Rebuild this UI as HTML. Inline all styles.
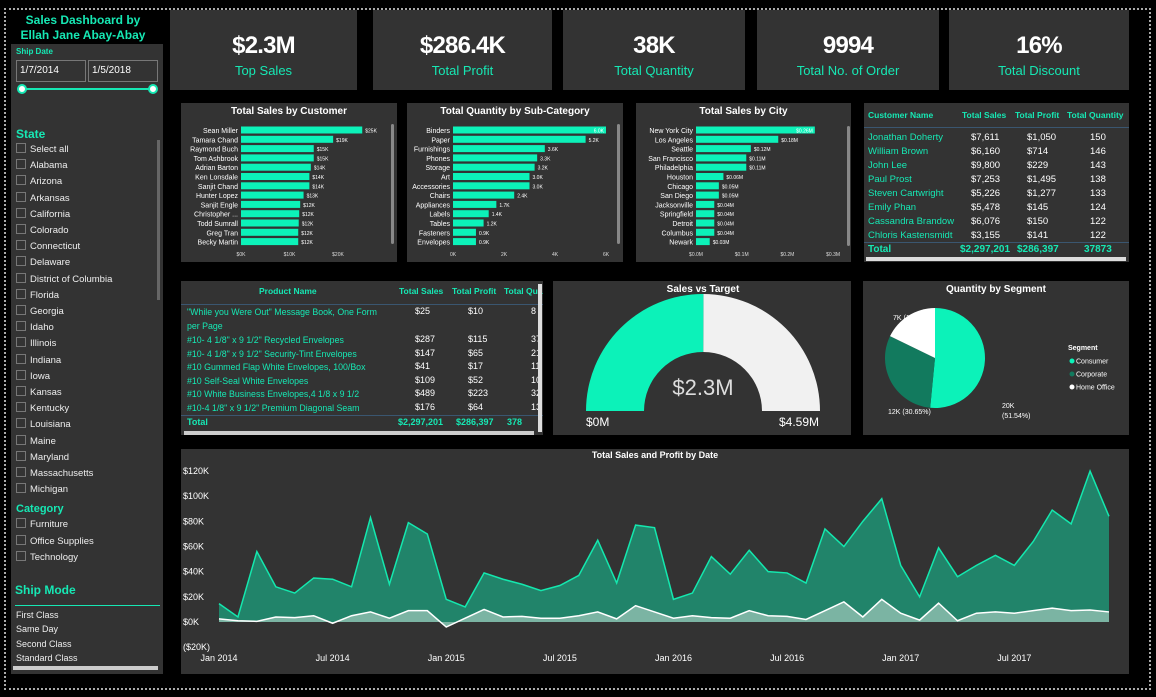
<!DOCTYPE html>
<html><head><meta charset="utf-8">
<style>
*{box-sizing:border-box;margin:0;padding:0}
body{width:1156px;height:697px;background:#000;position:relative;overflow:hidden;font-family:"Liberation Sans",sans-serif;color:#fff}
.abs{position:absolute}
.panel{position:absolute;background:#333}
.kpi{position:absolute;top:10px;height:80px;background:#333;text-align:center}
.kpi .v{font-size:24px;font-weight:bold;margin-top:22px;letter-spacing:-0.8px}
.kpi .l{font-size:13px;color:#16e8b4;margin-top:3px}
.ttl{position:absolute;width:100%;text-align:center;font-size:10px;font-weight:bold;top:3px}
.chk{position:absolute;left:16px;font-size:9.5px;color:#eee;white-space:nowrap}
.chk span{display:inline-block;width:10px;height:10px;border:1px solid #777;vertical-align:-1px;margin-right:4px}
.teal{color:#16e8b4}
.tr{position:absolute;font-size:9.5px;white-space:nowrap}
</style></head><body>
<div class="abs" style="left:4px;top:8px;width:1147px;height:682px;border:2px dotted #aaa"></div>

<div class="abs teal" style="left:8px;top:13px;width:150px;text-align:center;font-size:12px;font-weight:bold;line-height:15px">Sales Dashboard by<br>Ellah Jane Abay-Abay</div>
<div class="abs" style="left:176px;top:12px;width:4px;height:28px;background:#ccc"></div>

<div class="panel" style="left:11px;top:44px;width:152px;height:630px">
  <div class="abs teal" style="left:5px;top:3px;font-size:8px;font-weight:bold">Ship Date</div>
  <div class="abs" style="left:5px;top:16px;width:70px;height:22px;border:1px solid #777;font-size:10px;padding:4px 3px">1/7/2014</div>
  <div class="abs" style="left:77px;top:16px;width:70px;height:22px;border:1px solid #777;font-size:10px;padding:4px 3px">1/5/2018</div>
  <div class="abs" style="left:11px;top:44px;width:131px;height:2px;background:#16e8b4"></div>
  <div class="abs" style="left:6px;top:40px;width:10px;height:10px;border-radius:50%;background:#fff;border:2px solid #16e8b4"></div>
  <div class="abs" style="left:137px;top:40px;width:10px;height:10px;border-radius:50%;background:#fff;border:2px solid #16e8b4"></div>
  <div class="abs teal" style="left:5px;top:83px;font-size:12px;font-weight:bold">State</div>
  <div class="abs" style="left:146px;top:96px;width:3px;height:160px;background:#666"></div>
  <div class="abs teal" style="left:5px;top:459px;font-size:11px;font-weight:bold">Category</div>
  <div class="abs teal" style="left:4px;top:539px;font-size:12px;font-weight:bold">Ship Mode</div>
  <div class="abs" style="left:4px;top:561px;width:145px;height:1px;background:#16e8b4"></div>
  <div class="abs" style="left:2px;top:622px;width:145px;height:4px;background:#ccc"></div>
</div>
<div id="states"></div>

<div class="kpi" style="left:170px;width:187px"><div class="v">$2.3M</div><div class="l">Top Sales</div></div>
<div class="kpi" style="left:373px;width:179px"><div class="v">$286.4K</div><div class="l">Total Profit</div></div>
<div class="kpi" style="left:563px;width:182px"><div class="v">38K</div><div class="l">Total Quantity</div></div>
<div class="kpi" style="left:757px;width:182px"><div class="v">9994</div><div class="l">Total No. of Order</div></div>
<div class="kpi" style="left:949px;width:180px"><div class="v">16%</div><div class="l">Total Discount</div></div>

<div class="panel" style="left:181px;top:103px;width:216px;height:159px"><div class="ttl">Total Sales by Customer</div></div>
<div class="panel" style="left:407px;top:103px;width:216px;height:159px"><div class="ttl">Total Quantity by Sub-Category</div></div>
<div class="panel" style="left:636px;top:103px;width:215px;height:159px"><div class="ttl">Total Sales by City</div></div>
<svg class="abs" style="left:0;top:0" width="1156" height="697" id="bars"></svg>

<div class="panel" style="left:864px;top:103px;width:265px;height:159px;overflow:hidden">
  <div class="tr teal" style="left:4px;top:7px;font-weight:bold;font-size:8.5px">Customer Name</div>
  <div class="tr teal" style="left:98px;top:7px;font-weight:bold;font-size:8.5px">Total Sales</div>
  <div class="tr teal" style="left:151px;top:7px;font-weight:bold;font-size:8.5px">Total Profit</div>
  <div class="tr teal" style="left:203px;top:7px;font-weight:bold;font-size:8.5px">Total Quantity</div>
  <div class="abs" style="left:0;top:24px;width:265px;height:1px;background:#3a5670"></div>
  <div id="custrows"></div>
  <div class="abs" style="left:0;top:139px;width:265px;height:1px;background:#3a5670"></div>
  <div class="tr teal" style="left:4px;top:141px;font-weight:bold;font-size:10px">Total</div>
  <div class="tr teal" style="left:96px;top:141px;font-weight:bold;font-size:10px">$2,297,201</div>
  <div class="tr teal" style="left:153px;top:141px;font-weight:bold;font-size:10px">$286,397</div>
  <div class="tr teal" style="left:220px;top:141px;font-weight:bold;font-size:10px">37873</div>
  <div class="abs" style="left:2px;top:154px;width:260px;height:4px;background:#ddd"></div>
</div>

<div class="panel" style="left:181px;top:281px;width:362px;height:154px;overflow:hidden">
  <div class="tr teal" style="left:78px;top:5px;font-weight:bold;font-size:8.5px">Product Name</div>
  <div class="tr teal" style="left:218px;top:5px;font-weight:bold;font-size:8.5px">Total Sales</div>
  <div class="tr teal" style="left:271px;top:5px;font-weight:bold;font-size:8.5px">Total Profit</div>
  <div class="tr teal" style="left:323px;top:5px;font-weight:bold;font-size:8.5px">Total Quantity</div>
  <div class="abs" style="left:0;top:23px;width:362px;height:1px;background:#3a5670"></div>
  <div id="prodrows"></div>
  <div class="abs" style="left:0;top:134px;width:362px;height:1px;background:#3a5670"></div>
  <div class="tr teal" style="left:6px;top:136px;font-weight:bold;font-size:9px">Total</div>
  <div class="tr teal" style="left:217px;top:136px;font-weight:bold;font-size:9px">$2,297,201</div>
  <div class="tr teal" style="left:275px;top:136px;font-weight:bold;font-size:9px">$286,397</div>
  <div class="tr teal" style="left:326px;top:136px;font-weight:bold;font-size:9px">378</div>
  <div class="abs" style="left:357px;top:3px;width:4px;height:148px;background:#ddd"></div>
  <div class="abs" style="left:3px;top:150px;width:350px;height:4px;background:#ccc"></div>
</div>

<div class="panel" style="left:553px;top:281px;width:298px;height:154px"></div>
<svg class="abs" style="left:553px;top:281px" width="298" height="154" id="gauge"></svg>

<div class="panel" style="left:863px;top:281px;width:266px;height:154px"><div class="ttl">Quantity by Segment</div></div>
<svg class="abs" style="left:863px;top:281px" width="266" height="154" id="pie"></svg>

<div class="panel" style="left:181px;top:449px;width:948px;height:225px"><div class="ttl" style="top:1px;font-size:9px">Total Sales and Profit by Date</div></div>
<svg class="abs" style="left:0;top:0" width="1156" height="697" id="area"></svg>

<script>
const NS='http://www.w3.org/2000/svg';
function mk(parent,tag,attrs,text){const e=document.createElementNS(NS,tag);for(const k in attrs)e.setAttribute(k,attrs[k]);if(text!==undefined)e.textContent=text;parent.appendChild(e);return e;}
const TEAL='#0cf2b9';

const states=['Select all','Alabama','Arizona','Arkansas','California','Colorado','Connecticut','Delaware','District of Columbia','Florida','Georgia','Idaho','Illinois','Indiana','Iowa','Kansas','Kentucky','Louisiana','Maine','Maryland','Massachusetts','Michigan'];
const categories=['Furniture','Office Supplies','Technology'];
const shipModes=['First Class','Same Day','Second Class','Standard Class'];
const sc=document.getElementById('states');
states.forEach((s,i)=>{const d=document.createElement('div');d.className='chk';d.style.top=(143+i*16.2)+'px';d.innerHTML='<span></span>'+s;


sc.appendChild(d);});
categories.forEach((s,i)=>{const d=document.createElement('div');d.className='chk';d.style.top=(518+i*16.5)+'px';d.innerHTML='<span></span>'+s;


sc.appendChild(d);});
shipModes.forEach((s,i)=>{const d=document.createElement('div');d.className='chk';d.style.top=(610+i*14.3)+'px';d.style.fontSize='9px';d.textContent=s;


sc.appendChild(d);});

const custNames=['Sean Miller','Tamara Chand','Raymond Buch','Tom Ashbrook','Adrian Barton','Ken Lonsdale','Sanjit Chand','Hunter Lopez','Sanjit Engle','Christopher ...','Todd Sumrall','Greg Tran','Becky Martin'];
const custSales=[25,19,15,15,14.4,14.1,14.1,12.9,12.2,12,11.9,11.8,11.8];
const custLabels=['$25K','$19K','$15K','$15K','$14K','$14K','$14K','$13K','$12K','$12K','$12K','$12K','$12K'];
const custTicks=[0,10,20];
const subNames=['Binders','Paper','Furnishings','Phones','Storage','Art','Accessories','Chairs','Appliances','Labels','Tables','Fasteners','Envelopes'];
const subQty=[6.0,5.2,3.6,3.3,3.2,3.0,3.0,2.4,1.7,1.4,1.2,0.9,0.9];
const subTicks=[0,2,4,6];
const cityNames=['New York City','Los Angeles','Seattle','San Francisco','Philadelphia','Houston','Chicago','San Diego','Jacksonville','Springfield','Detroit','Columbus','Newark'];
const citySales=[0.26,0.18,0.12,0.11,0.11,0.06,0.05,0.05,0.04,0.04,0.04,0.04,0.03];
const cityTicks=[0,0.1,0.2,0.3];

const bars=document.getElementById('bars');
function barChart(key,x0,pxPer,names,vals,labels,ticks,tickFmt,inside){
  const g=mk(bars,'g',{});
  
  
  names.forEach((n,i)=>{
    const y=130+i*9.3;
    const w=vals[i]*pxPer;
    mk(g,'text',{x:x0-3,y:y+3,'text-anchor':'end','font-size':7,fill:'#fff'},n);
    const r=mk(g,'rect',{x:x0,y:y-3.5,width:w,height:7,fill:TEAL});
    
    
    if(i===0&&inside) mk(g,'text',{x:x0+w-2,y:y+2.5,'text-anchor':'end','font-size':5,fill:'#fff'},labels[i]);
    else mk(g,'text',{x:x0+w+3,y:y+2.5,'font-size':5,fill:'#fff'},labels[i]);
  });
  ticks.forEach(t=>{mk(g,'text',{x:x0+t*pxPer,y:256,'text-anchor':'middle','font-size':5,fill:'#ddd'},tickFmt(t));});
}
barChart('customer-sales',241,4.85,custNames,custSales,custLabels,custTicks,t=>'$'+t+'K',false);
barChart('subcategory-quantity',453,25.5,subNames,subQty,subQty.map(v=>v.toFixed(1)+'K'),subTicks,t=>t+'K',true);
barChart('city-sales',696,457,cityNames,citySales,citySales.map((v,i)=>'$'+v.toFixed(2)+'M'),cityTicks,t=>'$'+t.toFixed(1)+'M',true);
[[391,124],[617,124],[847,126]].forEach(([x,y],i)=>{const r=mk(bars,'rect',{x:x,y:y,width:3,height:120,rx:1.5,fill:'#888'});

});

const custRowNames=['Jonathan Doherty','William Brown','John Lee','Paul Prost','Steven Cartwright','Emily Phan','Cassandra Brandow','Chloris Kastensmidt'];
const custRowSales=['$7,611','$6,160','$9,800','$7,253','$5,226','$5,478','$6,076','$3,155'];
const custRowProfit=['$1,050','$714','$229','$1,495','$1,277','$145','$150','$141'];
const custRowQty=['150','146','143','138','133','124','122','122'];
const cr=document.getElementById('custrows');
custRowNames.forEach((n,i)=>{const y=29+i*14;
cr.insertAdjacentHTML('beforeend',`<div class="tr teal" style="left:4px;top:${y}px">${n}</div><div class="tr" style="left:107px;top:${y}px">${custRowSales[i]}</div><div class="tr" style="left:163px;top:${y}px">${custRowProfit[i]}</div><div class="tr" style="left:226px;top:${y}px">${custRowQty[i]}</div>`);});

const prodNames=['"While you Were Out" Message Book, One Form<br>per Page','#10- 4 1/8" x 9 1/2" Recycled Envelopes','#10- 4 1/8" x 9 1/2" Security-Tint Envelopes','#10 Gummed Flap White Envelopes, 100/Box','#10 Self-Seal White Envelopes','#10 White Business Envelopes,4 1/8 x 9 1/2','#10-4 1/8" x 9 1/2" Premium Diagonal Seam'];
const prodSales=['$25','$287','$147','$41','$109','$489','$176'];
const prodProfit=['$10','$115','$65','$17','$52','$223','$64'];
const prodQty=['8','37','21','11','10','32','13'];
const prodY=[24,52,66,79,93,106,120];
const pr=document.getElementById('prodrows');
prodNames.forEach((n,i)=>{const y=prodY[i];
pr.insertAdjacentHTML('beforeend',`<div class="tr teal" style="left:6px;top:${y}px;font-size:8.8px;line-height:14px">${n}</div><div class="tr" style="left:234px;top:${y+1}px;font-size:9px">${prodSales[i]}</div><div class="tr" style="left:287px;top:${y+1}px;font-size:9px">${prodProfit[i]}</div><div class="tr" style="left:350px;top:${y+1}px;font-size:9px">${prodQty[i]}</div>`);});

const gaugeValue=2.3, gaugeMax=4.59;
const gs=document.getElementById('gauge');
const cx=150,cy=130,R=117,r0=59;
function arcPath(a0,a1){const p=(a,rr)=>[cx+rr*Math.cos(a),cy-rr*Math.sin(a)];
const [x1,y1]=p(a0,R),[x2,y2]=p(a1,R),[x3,y3]=p(a1,r0),[x4,y4]=p(a0,r0);
return `M${x1},${y1} A${R},${R} 0 0 1 ${x2},${y2} L${x3},${y3} A${r0},${r0} 0 0 0 ${x4},${y4} Z`;}
const ang=Math.PI*(1-gaugeValue/gaugeMax);
const gb=mk(gs,'path',{d:arcPath(ang,0),fill:'#f1f1f1'});


const gv=mk(gs,'path',{d:arcPath(Math.PI,ang),fill:'#0cf2b9'});


mk(gs,'text',{x:cx,y:11,'text-anchor':'middle','font-size':10,'font-weight':'bold',fill:'#fff'},'Sales vs Target');
mk(gs,'text',{x:cx,y:114,'text-anchor':'middle','font-size':22,fill:'#ddd'},'$'+gaugeValue+'M');
mk(gs,'text',{x:33,y:145,'font-size':12,fill:'#fff'},'$0M');
mk(gs,'text',{x:226,y:145,'font-size':12,fill:'#fff'},'$'+gaugeMax+'M');

const segNames=['Consumer','Corporate','Home Office'];
const segPct=[51.54,30.65,17.81];
const segLabels=['20K','12K','7K'];
const segColors=['#0cf2b9','#127a5e','#ffffff'];
const ps=document.getElementById('pie');
const pcx=72,pcy=77,pr2=50;let a=0;
segPct.forEach((p,i)=>{const a1=a+p/100*2*Math.PI;
const x1=pcx+pr2*Math.sin(a),y1=pcy-pr2*Math.cos(a),x2=pcx+pr2*Math.sin(a1),y2=pcy-pr2*Math.cos(a1);
const s=mk(ps,'path',{d:`M${pcx},${pcy} L${x1},${y1} A${pr2},${pr2} 0 ${p>50?1:0} 1 ${x2},${y2} Z`,fill:segColors[i]});


a=a1;});
mk(ps,'text',{x:139,y:127,'font-size':7,fill:'#fff'},segLabels[0]);
mk(ps,'text',{x:139,y:137,'font-size':7,fill:'#fff'},'('+segPct[0]+'%)');
mk(ps,'text',{x:25,y:133,'font-size':7,fill:'#fff'},segLabels[1]+' ('+segPct[1]+'%)');
mk(ps,'text',{x:30,y:39,'font-size':7,fill:'#fff'},segLabels[2]+' ('+segPct[2]+'%)');
mk(ps,'text',{x:205,y:69,'font-size':7,'font-weight':'bold',fill:'#fff'},'Segment');
segNames.forEach((n,i)=>{mk(ps,'circle',{cx:209,cy:80+i*13,r:2.5,fill:segColors[i]});
mk(ps,'text',{x:213,y:82.5+i*13,'font-size':7,fill:'#fff'},n);});

const monthLabels=['Jan 2014','Jul 2014','Jan 2015','Jul 2015','Jan 2016','Jul 2016','Jan 2017','Jul 2017'];
const salesK=[14.6,4,56,28,23,35,34,28,83,30,79,70,18,12,39,34,30,25,29,37,65,31,77,75,18,23,52,38,57,40,39,31,74,60,80,98,45,20,59,36,45,53,45,64,89,78,120,84];
const profitK=[2.5,1,0.5,4,3.5,5,-1,5,8,3,9,9,-4,3,10,4,4.5,3,3,5,8,2.5,13,8,3,5,3.5,3,9,5,4.5,2,9,16,4,18,7,1.5,15,1,7,8,7,9,11,9,9.5,8];
const yTicks=[-20,0,20,40,60,80,100,120];
const X0=219,X1=1109;
const xs=i=>X0+i*(X1-X0)/(salesK.length-1);
const ys=v=>622-v*1.258;
const ar=document.getElementById('area');
yTicks.forEach(t=>mk(ar,'text',{x:183,y:ys(t)+3,'font-size':9,fill:'#fff'},t<0?'($'+(-t)+'K)':'$'+t+'K'));
monthLabels.forEach((m,i)=>mk(ar,'text',{x:xs(i*6),y:661,'text-anchor':'middle','font-size':9,fill:'#fff'},m));
function areaD(vals){let d=`M${xs(0)},${ys(0)}`;vals.forEach((v,i)=>d+=` L${xs(i)},${ys(v)}`);return d+` L${xs(vals.length-1)},${ys(0)} Z`;}
function lineD(vals){return vals.map((v,i)=>(i?'L':'M')+xs(i)+','+ys(v)).join(' ');}
const sa=mk(ar,'path',{d:areaD(salesK),fill:'#21846a'});


const sl=mk(ar,'path',{d:lineD(salesK),fill:'none',stroke:'#14e8ae','stroke-width':1.5});


const pa=mk(ar,'path',{d:areaD(profitK),fill:'#7bb4a3'});


const pl=mk(ar,'path',{d:lineD(profitK),fill:'none',stroke:'#fff','stroke-width':1.5});


</script>
</body></html>
